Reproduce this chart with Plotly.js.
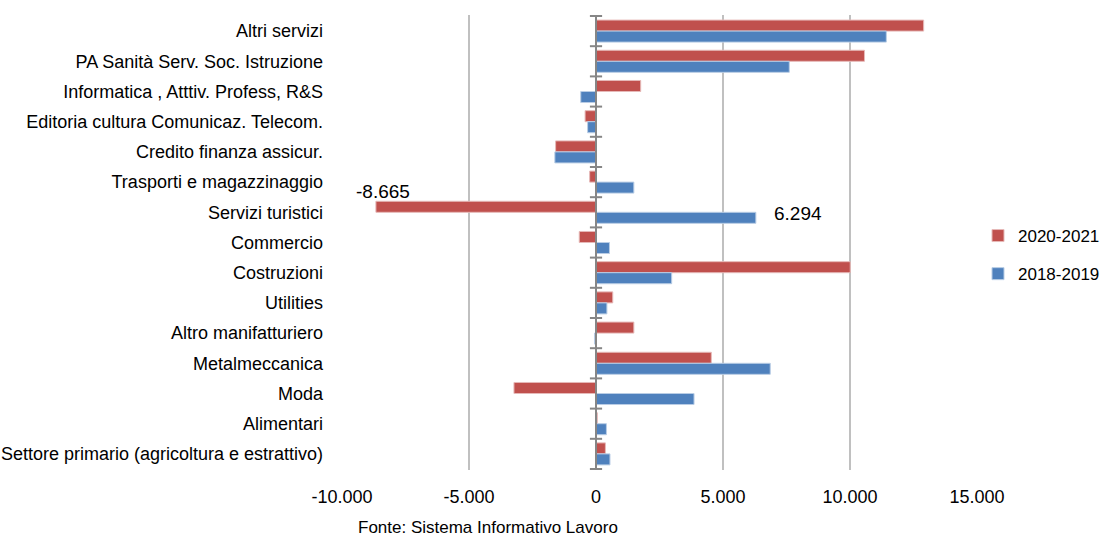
<!DOCTYPE html>
<html><head><meta charset="utf-8">
<script src="https://cdn.plot.ly/plotly-3.0.1.min.js"></script>
<style>body{margin:0;background:#fff}#chart{width:1105px;height:536px}</style>
</head><body><div id="chart"></div>
<script>
// Categories, top to bottom as drawn
const categories = [
  "Altri servizi",
  "PA Sanità Serv. Soc. Istruzione",
  "Informatica , Atttiv. Profess, R&S",
  "Editoria cultura Comunicaz. Telecom.",
  "Credito finanza assicur.",
  "Trasporti e magazzinaggio",
  "Servizi turistici",
  "Commercio",
  "Costruzioni",
  "Utilities",
  "Altro manifatturiero",
  "Metalmeccanica",
  "Moda",
  "Alimentari",
  "Settore primario (agricoltura e estrattivo)"
];
const values2021 = [12900, 10570, 1760, -430, -1590, -250, -8665, -660, 10010, 660, 1490, 4540, -3230, 50, 370];
const values2019 = [11430, 7610, -600, -330, -1620, 1490, 6294, 530, 2980, 430, -60, 6860, 3860, 410, 550];
const seriesNames = ["2020-2021", "2018-2019"];
const tickVals = [-10000, -5000, 0, 5000, 10000, 15000];
const tickText = ["-10.000", "-5.000", "0", "5.000", "10.000", "15.000"];
const labelledPoints = [
  {series: 0, category: "Servizi turistici", text: "-8.665"},
  {series: 1, category: "Servizi turistici", text: "6.294"}
];
const sourceText = "Fonte: Sistema Informativo Lavoro";

const FONT = "'Liberation Sans', Arial, sans-serif";
const RED = "#C0504D", BLUE = "#4F81BD";

const traces = [
  {type: "bar", orientation: "h", name: seriesNames[0], legendgroup: "a", y: categories, x: values2021,
   marker: {color: RED, line: {color: "#E6B9B8", width: 1}}, hoverinfo: "x+y"},
  {type: "bar", orientation: "h", name: seriesNames[1], legendgroup: "b", y: categories, x: values2019,
   marker: {color: BLUE, line: {color: "#B9CDE5", width: 1}}, hoverinfo: "x+y"}
];

// category boundary tick marks on the zero axis
const shapes = [];
for (let i = 0; i <= categories.length; i++) {
  shapes.push({type: "line", xref: "x", yref: "y", x0: -240, x1: 240, y0: i - 0.5, y1: i - 0.5,
    line: {color: "#868686", width: 2}});
}
shapes.push({type: "line", xref: "x", yref: "y", x0: 0, x1: 0, y0: -0.5, y1: categories.length - 0.5,
  line: {color: "#868686", width: 2}});

const allVals = [values2021, values2019];
const annotations = labelledPoints.map(p => {
  const v = allVals[p.series][categories.indexOf(p.category)];
  const neg = v < 0;
  return {
    x: v, y: p.category, xref: "x", yref: "y", text: p.text, showarrow: false,
    xanchor: "left", yanchor: "middle",
    xshift: neg ? -22 : 16, yshift: neg ? 21 : -1,
    font: {family: FONT, size: 19, color: "#000"}
  };
});
const plotW = 1105 - 342 - 128, plotH = 536 - 15 - 66;
annotations.push({x: (488 - 342) / plotW, y: (536 - 66 - 527) / plotH, xref: "paper", yref: "paper",
  yanchor: "middle", xanchor: "center", text: sourceText, showarrow: false,
  font: {family: FONT, size: 17, color: "#000"}});

const layout = {
  width: 1105, height: 536,
  margin: {l: 342, r: 128, t: 15, b: 66, autoexpand: false},
  paper_bgcolor: "#fff", plot_bgcolor: "#fff",
  font: {family: FONT, size: 18, color: "#000"},
  barmode: "group", bargap: 0.27, bargroupgap: 0,
  showlegend: true,
  legend: {xref: "container", yref: "container", x: 978 / 1105, y: 1 - 255 / 536, xanchor: "left", yanchor: "middle",
    font: {family: FONT, size: 17}, traceorder: "grouped", itemwidth: 30, tracegroupgap: 13,
    bgcolor: "rgba(0,0,0,0)"},
  xaxis: {range: [-10000, 15000], tickvals: tickVals, ticktext: tickText, showgrid: true,
    gridcolor: "#C0C0C0", gridwidth: 2, zeroline: false, showline: false, ticks: "",
    ticklabelstandoff: 14, tickfont: {family: FONT, size: 18}, fixedrange: true},
  yaxis: {type: "category", categoryorder: "array", categoryarray: categories, autorange: "reversed",
    showgrid: false, zeroline: false, showline: false, ticks: "", ticklabelstandoff: 18,
    tickfont: {family: FONT, size: 18}, fixedrange: true},
  shapes: shapes,
  annotations: annotations
};
Plotly.newPlot("chart", traces, layout, {displayModeBar: false, staticPlot: true});
</script></body></html>
